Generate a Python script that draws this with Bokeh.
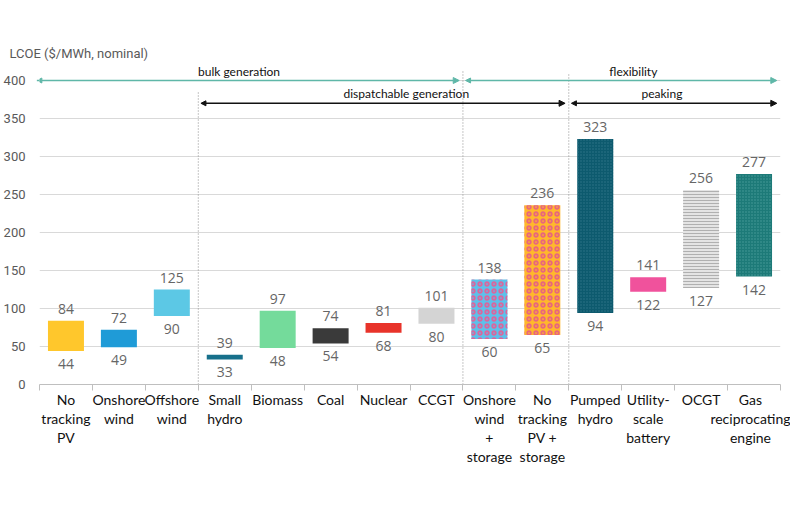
from bokeh.plotting import figure
from bokeh.models import (Arrow, NormalHead, FixedTicker, Range1d, ColumnDataSource, Title)
from bokeh.core.properties import value
from bokeh.embed import file_html
from bokeh.resources import INLINE

# ---- data ----
categories = ["No\ntracking\nPV", "Onshore\nwind", "Offshore\nwind", "Small\nhydro", "Biomass",
              "Coal", "Nuclear", "CCGT", "Onshore\nwind\n+\nstorage", "No\ntracking\nPV +\nstorage",
              "Pumped\nhydro", "Utility-\nscale\nbattery", "OCGT", "Gas\nreciprocating\nengine"]
lcoe_low = [44, 49, 90, 33, 48, 54, 68, 80, 60, 65, 94, 122, 127, 142]
lcoe_high = [84, 72, 125, 39, 97, 74, 81, 101, 138, 236, 323, 141, 256, 277]
y_ticks = [0, 50, 100, 150, 200, 250, 300, 350, 400]

# groups: name, first category index, last category index (exclusive end), level value
group_names = ["bulk generation", "flexibility", "dispatchable generation", "peaking"]
group_start = [0, 8, 3, 10]
group_end = [8, 14, 10, 14]
group_level = [400, 400, 370, 370]
group_label_x = [3.77, 11.22, 6.93, 11.76]
group_colors = ["#5FB7A8", "#5FB7A8", "#111111", "#111111"]

divider_pos = [3, 8, 10]
divider_top = [385, 412, 410]

# styles
fill_colors = ["#FFC72C", "#1F9BD7", "#5CC8E5", "#17708B", "#74DB9B", "#3A3A3A", "#E8332A",
               "#D4D4D4", "#5DC0EA", "#FFB82B", "#0D5A6E", "#F0529C", "#E4E4E4", "#1D7A78"]
hatch_patterns = [" ", " ", " ", " ", " ", " ", " ", " ", "ring", "ring", "dot", " ",
                  "horizontal_line", "dot"]
hatch_colors = ["#000000"] * 8 + ["#D8679E", "#E8677C", "#2F7588", "#000000", "#B0B0B0", "#4A9E9B"]
hatch_scales = [12] * 8 + [7, 7, 3, 12, 3, 3]
hatch_weights = [1] * 8 + [1.8, 1.8, 1, 1, 1, 1]

n = len(categories)
xs = [i + 0.5 for i in range(n)]

src = ColumnDataSource(dict(x=xs, low=lcoe_low, high=lcoe_high, fc=fill_colors, hp=hatch_patterns,
                            hc=hatch_colors, hs=hatch_scales, hw=hatch_weights,
                            tl=[str(v) for v in lcoe_high], bl=[str(v) for v in lcoe_low]))

p = figure(width=790, height=493, output_backend="svg", toolbar_location=None,
           x_range=Range1d(0, n), y_range=Range1d(0, 425),
           min_border_left=30, min_border_right=10, min_border_top=61, min_border_bottom=109)
p.outline_line_color = None
p.background_fill_color = "white"

p.title = Title(text="LCOE ($/MWh, nominal)", align="left", offset=-30, standoff=2,
                text_font="Roboto", text_font_size="13px", text_font_style="normal",
                text_color="#595959")

# bars
p.vbar(x="x", width=0.68, bottom="low", top="high", source=src, fill_color="fc", line_color=None,
       hatch_pattern="hp", hatch_color="hc", hatch_scale="hs", hatch_weight="hw")

# value labels
p.text(x="x", y="high", text="tl", source=src, text_align="center", text_baseline="bottom",
       y_offset=-7, text_font=value("Open Sans"), text_font_size="14px", text_color="#666666")
p.text(x="x", y="low", text="bl", source=src, text_align="center", text_baseline="top",
       y_offset=8, text_font=value("Open Sans"), text_font_size="14px", text_color="#666666")

# dividers
p.segment(x0=divider_pos, y0=[0] * len(divider_pos), x1=divider_pos, y1=divider_top,
          line_color="#8C8C8C", line_dash="1 2", line_width=1)

# group arrows
for name, s, e, lv, lx, col in zip(group_names, group_start, group_end, group_level,
                                   group_label_x, group_colors):
    p.add_layout(Arrow(x_start=s + 0.05 if s > 0 else -0.05, y_start=lv, x_end=e - 0.07, y_end=lv,
                       line_color=col, line_width=1.5,
                       start=NormalHead(size=5, fill_color=col, line_color=col),
                       end=NormalHead(size=6, fill_color=col, line_color=col)))
    p.text(x=[lx], y=[lv], text=[name], text_align="center", text_baseline="bottom", y_offset=-2,
           text_font=value("Lato"), text_font_size="12px", text_color="#111111")

# axes
p.yaxis.ticker = FixedTicker(ticks=y_ticks)
p.yaxis.axis_line_color = None
p.yaxis.major_tick_line_color = None
p.yaxis.minor_tick_line_color = None
p.yaxis.major_label_text_font = "Roboto"
p.yaxis.major_label_text_font_size = "13px"
p.yaxis.major_label_text_color = "#595959"
p.yaxis.major_label_standoff = 8

p.ygrid.grid_line_color = "#D9D9D9"
p.ygrid.ticker = FixedTicker(ticks=y_ticks[1:])
p.xgrid.grid_line_color = None

p.xaxis.ticker = FixedTicker(ticks=xs, minor_ticks=list(range(n + 1)))
p.xaxis.major_label_overrides = {x: c for x, c in zip(xs, categories)}
p.xaxis.axis_line_color = "#BFBFBF"
p.xaxis.major_tick_line_color = None
p.xaxis.minor_tick_line_color = "#BFBFBF"
p.xaxis.minor_tick_out = 6
p.xaxis.minor_tick_in = 0
p.xaxis.major_label_text_font = "Lato"
p.xaxis.major_label_text_font_size = "14px"
p.xaxis.major_label_text_color = "#111111"
p.xaxis.major_label_text_line_height = 1.12
p.xaxis.major_label_standoff = 0

open("out.html", "w").write(file_html(p, INLINE))
